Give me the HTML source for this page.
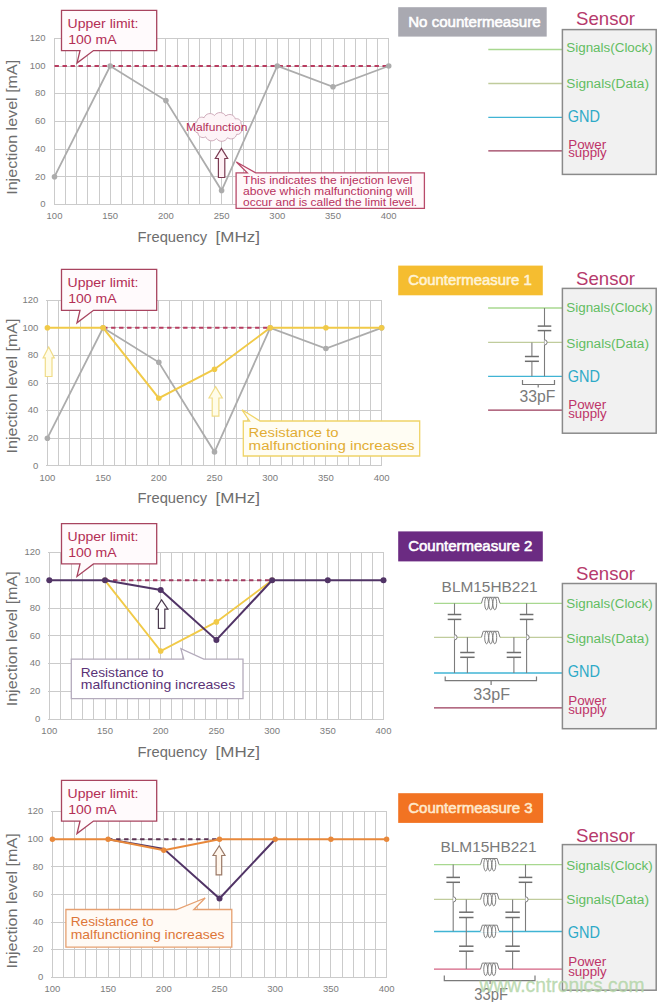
<!DOCTYPE html><html><head><meta charset="utf-8"><style>html,body{margin:0;padding:0;background:#fff;}svg{display:block;}</style></head><body>
<svg width="664" height="1002" viewBox="0 0 664 1002" font-family='"Liberation Sans", sans-serif'>
<rect width="664" height="1002" fill="#fff"/>
<line x1="54.5" y1="38.32" x2="54.5" y2="204.4" stroke="#cbcbcb" stroke-width="1" shape-rendering="crispEdges"/>
<line x1="65.64" y1="38.32" x2="65.64" y2="204.4" stroke="#cbcbcb" stroke-width="1" shape-rendering="crispEdges"/>
<line x1="76.78" y1="38.32" x2="76.78" y2="204.4" stroke="#cbcbcb" stroke-width="1" shape-rendering="crispEdges"/>
<line x1="87.92" y1="38.32" x2="87.92" y2="204.4" stroke="#cbcbcb" stroke-width="1" shape-rendering="crispEdges"/>
<line x1="99.06" y1="38.32" x2="99.06" y2="204.4" stroke="#cbcbcb" stroke-width="1" shape-rendering="crispEdges"/>
<line x1="110.2" y1="38.32" x2="110.2" y2="204.4" stroke="#cbcbcb" stroke-width="1" shape-rendering="crispEdges"/>
<line x1="121.34" y1="38.32" x2="121.34" y2="204.4" stroke="#cbcbcb" stroke-width="1" shape-rendering="crispEdges"/>
<line x1="132.48" y1="38.32" x2="132.48" y2="204.4" stroke="#cbcbcb" stroke-width="1" shape-rendering="crispEdges"/>
<line x1="143.62" y1="38.32" x2="143.62" y2="204.4" stroke="#cbcbcb" stroke-width="1" shape-rendering="crispEdges"/>
<line x1="154.76" y1="38.32" x2="154.76" y2="204.4" stroke="#cbcbcb" stroke-width="1" shape-rendering="crispEdges"/>
<line x1="165.9" y1="38.32" x2="165.9" y2="204.4" stroke="#cbcbcb" stroke-width="1" shape-rendering="crispEdges"/>
<line x1="177.04" y1="38.32" x2="177.04" y2="204.4" stroke="#cbcbcb" stroke-width="1" shape-rendering="crispEdges"/>
<line x1="188.18" y1="38.32" x2="188.18" y2="204.4" stroke="#cbcbcb" stroke-width="1" shape-rendering="crispEdges"/>
<line x1="199.32" y1="38.32" x2="199.32" y2="204.4" stroke="#cbcbcb" stroke-width="1" shape-rendering="crispEdges"/>
<line x1="210.46" y1="38.32" x2="210.46" y2="204.4" stroke="#cbcbcb" stroke-width="1" shape-rendering="crispEdges"/>
<line x1="221.6" y1="38.32" x2="221.6" y2="204.4" stroke="#cbcbcb" stroke-width="1" shape-rendering="crispEdges"/>
<line x1="232.74" y1="38.32" x2="232.74" y2="204.4" stroke="#cbcbcb" stroke-width="1" shape-rendering="crispEdges"/>
<line x1="243.88" y1="38.32" x2="243.88" y2="204.4" stroke="#cbcbcb" stroke-width="1" shape-rendering="crispEdges"/>
<line x1="255.02" y1="38.32" x2="255.02" y2="204.4" stroke="#cbcbcb" stroke-width="1" shape-rendering="crispEdges"/>
<line x1="266.16" y1="38.32" x2="266.16" y2="204.4" stroke="#cbcbcb" stroke-width="1" shape-rendering="crispEdges"/>
<line x1="277.3" y1="38.32" x2="277.3" y2="204.4" stroke="#cbcbcb" stroke-width="1" shape-rendering="crispEdges"/>
<line x1="288.44" y1="38.32" x2="288.44" y2="204.4" stroke="#cbcbcb" stroke-width="1" shape-rendering="crispEdges"/>
<line x1="299.58" y1="38.32" x2="299.58" y2="204.4" stroke="#cbcbcb" stroke-width="1" shape-rendering="crispEdges"/>
<line x1="310.72" y1="38.32" x2="310.72" y2="204.4" stroke="#cbcbcb" stroke-width="1" shape-rendering="crispEdges"/>
<line x1="321.86" y1="38.32" x2="321.86" y2="204.4" stroke="#cbcbcb" stroke-width="1" shape-rendering="crispEdges"/>
<line x1="333" y1="38.32" x2="333" y2="204.4" stroke="#cbcbcb" stroke-width="1" shape-rendering="crispEdges"/>
<line x1="344.14" y1="38.32" x2="344.14" y2="204.4" stroke="#cbcbcb" stroke-width="1" shape-rendering="crispEdges"/>
<line x1="355.28" y1="38.32" x2="355.28" y2="204.4" stroke="#cbcbcb" stroke-width="1" shape-rendering="crispEdges"/>
<line x1="366.42" y1="38.32" x2="366.42" y2="204.4" stroke="#cbcbcb" stroke-width="1" shape-rendering="crispEdges"/>
<line x1="377.56" y1="38.32" x2="377.56" y2="204.4" stroke="#cbcbcb" stroke-width="1" shape-rendering="crispEdges"/>
<line x1="388.7" y1="38.32" x2="388.7" y2="204.4" stroke="#cbcbcb" stroke-width="1" shape-rendering="crispEdges"/>
<line x1="53.5" y1="204.4" x2="388.7" y2="204.4" stroke="#cbcbcb" stroke-width="1" shape-rendering="crispEdges"/>
<line x1="53.5" y1="176.72" x2="388.7" y2="176.72" stroke="#cbcbcb" stroke-width="1" shape-rendering="crispEdges"/>
<line x1="53.5" y1="149.04" x2="388.7" y2="149.04" stroke="#cbcbcb" stroke-width="1" shape-rendering="crispEdges"/>
<line x1="53.5" y1="121.36" x2="388.7" y2="121.36" stroke="#cbcbcb" stroke-width="1" shape-rendering="crispEdges"/>
<line x1="53.5" y1="93.68" x2="388.7" y2="93.68" stroke="#cbcbcb" stroke-width="1" shape-rendering="crispEdges"/>
<line x1="53.5" y1="66" x2="388.7" y2="66" stroke="#cbcbcb" stroke-width="1" shape-rendering="crispEdges"/>
<line x1="53.5" y1="38.32" x2="388.7" y2="38.32" stroke="#cbcbcb" stroke-width="1" shape-rendering="crispEdges"/>
<text x="45.5" y="207.2" font-size="9.5" fill="#7c7c7c" text-anchor="end">0</text>
<text x="45.5" y="179.52" font-size="9.5" fill="#7c7c7c" text-anchor="end">20</text>
<text x="45.5" y="151.84" font-size="9.5" fill="#7c7c7c" text-anchor="end">40</text>
<text x="45.5" y="124.16" font-size="9.5" fill="#7c7c7c" text-anchor="end">60</text>
<text x="45.5" y="96.48" font-size="9.5" fill="#7c7c7c" text-anchor="end">80</text>
<text x="45.5" y="68.8" font-size="9.5" fill="#7c7c7c" text-anchor="end">100</text>
<text x="45.5" y="41.12" font-size="9.5" fill="#7c7c7c" text-anchor="end">120</text>
<text x="54.5" y="219.2" font-size="9.5" fill="#7c7c7c" text-anchor="middle">100</text>
<text x="110.2" y="219.2" font-size="9.5" fill="#7c7c7c" text-anchor="middle">150</text>
<text x="165.9" y="219.2" font-size="9.5" fill="#7c7c7c" text-anchor="middle">200</text>
<text x="221.6" y="219.2" font-size="9.5" fill="#7c7c7c" text-anchor="middle">250</text>
<text x="277.3" y="219.2" font-size="9.5" fill="#7c7c7c" text-anchor="middle">300</text>
<text x="333" y="219.2" font-size="9.5" fill="#7c7c7c" text-anchor="middle">350</text>
<text x="388.7" y="219.2" font-size="9.5" fill="#7c7c7c" text-anchor="middle">400</text>
<text transform="translate(16.6,127.3) rotate(-90)" font-size="15" fill="#6e6e6e" text-anchor="middle" textLength="135" lengthAdjust="spacingAndGlyphs">Injection level [mA]</text>
<text x="137.6" y="241.9" font-size="14.5" fill="#6e6e6e" textLength="69.5" lengthAdjust="spacingAndGlyphs">Frequency</text>
<text x="215.6" y="241.9" font-size="14.5" fill="#6e6e6e" textLength="44.3" lengthAdjust="spacingAndGlyphs">[MHz]</text>
<line x1="54.5" y1="66" x2="388.7" y2="66" stroke="#b83c60" stroke-width="2" stroke-dasharray="4.4 3.6"/>
<polyline points="54.5,176.72 110.2,66 165.9,100.6 221.6,190.56 277.3,66 333,86.76 388.7,66" fill="none" stroke="#acacac" stroke-width="1.8" stroke-linejoin="miter"/>
<circle cx="54.5" cy="176.72" r="2.8" fill="#acacac"/>
<circle cx="110.2" cy="66" r="2.8" fill="#acacac"/>
<circle cx="165.9" cy="100.6" r="2.8" fill="#acacac"/>
<circle cx="221.6" cy="190.56" r="2.8" fill="#acacac"/>
<circle cx="277.3" cy="66" r="2.8" fill="#acacac"/>
<circle cx="333" cy="86.76" r="2.8" fill="#acacac"/>
<circle cx="388.7" cy="66" r="2.8" fill="#acacac"/>
<path d="M61.5,10.3 L156.7,10.3 L156.7,50.6 L93.5,50.6 L77,63.1 L80,50.6 L61.5,50.6 Z" fill="#fffafc" stroke="#a8445f" stroke-width="1.3"/>
<text x="67.5" y="27.7" font-size="13.5" fill="#b32e55" textLength="71" lengthAdjust="spacingAndGlyphs">Upper limit:</text>
<text x="68.2" y="44.1" font-size="13.5" fill="#b32e55" textLength="48.5" lengthAdjust="spacingAndGlyphs">100 mA</text>
<rect x="398.2" y="7.2" width="148.5" height="29.4" fill="#a9a9b1"/>
<text x="408.2" y="26.5" font-size="14" fill="#ffffff" textLength="132.4" lengthAdjust="spacingAndGlyphs" stroke="#ffffff" stroke-width="0.55">No countermeasure</text>
<text x="576" y="24.7" font-size="18.5" fill="#b63a6c" textLength="59" lengthAdjust="spacingAndGlyphs">Sensor</text>
<line x1="488.3" y1="49.5" x2="562.4" y2="49.5" stroke="#a8d890" stroke-width="1.3"/>
<line x1="488.3" y1="83.5" x2="562.4" y2="83.5" stroke="#c0cc9c" stroke-width="1.3"/>
<line x1="488.3" y1="117.3" x2="562.4" y2="117.3" stroke="#40b4d4" stroke-width="1.3"/>
<line x1="488.3" y1="150.9" x2="562.4" y2="150.9" stroke="#9a3a5a" stroke-width="1.3"/>
<rect x="562.4" y="29.6" width="93.8" height="144.8" fill="#f1f1f1" stroke="#8a8a8a" stroke-width="1.5"/>
<text x="566.3" y="52.4" font-size="12.5" fill="#62bd62" textLength="86.4" lengthAdjust="spacingAndGlyphs">Signals(Clock)</text>
<text x="566.3" y="87.5" font-size="12.5" fill="#62bd62" textLength="82.7" lengthAdjust="spacingAndGlyphs">Signals(Data)</text>
<text x="567.8" y="122.4" font-size="16" fill="#2eaac8" textLength="32.2" lengthAdjust="spacingAndGlyphs">GND</text>
<text x="568.2" y="148.5" font-size="13" fill="#be3468" textLength="38" lengthAdjust="spacingAndGlyphs">Power</text>
<text x="568.2" y="157.2" font-size="13" fill="#be3468" textLength="38.5" lengthAdjust="spacingAndGlyphs">supply</text>
<line x1="47.4" y1="300.2" x2="47.4" y2="465.8" stroke="#cbcbcb" stroke-width="1" shape-rendering="crispEdges"/>
<line x1="58.54" y1="300.2" x2="58.54" y2="465.8" stroke="#cbcbcb" stroke-width="1" shape-rendering="crispEdges"/>
<line x1="69.68" y1="300.2" x2="69.68" y2="465.8" stroke="#cbcbcb" stroke-width="1" shape-rendering="crispEdges"/>
<line x1="80.82" y1="300.2" x2="80.82" y2="465.8" stroke="#cbcbcb" stroke-width="1" shape-rendering="crispEdges"/>
<line x1="91.96" y1="300.2" x2="91.96" y2="465.8" stroke="#cbcbcb" stroke-width="1" shape-rendering="crispEdges"/>
<line x1="103.1" y1="300.2" x2="103.1" y2="465.8" stroke="#cbcbcb" stroke-width="1" shape-rendering="crispEdges"/>
<line x1="114.24" y1="300.2" x2="114.24" y2="465.8" stroke="#cbcbcb" stroke-width="1" shape-rendering="crispEdges"/>
<line x1="125.38" y1="300.2" x2="125.38" y2="465.8" stroke="#cbcbcb" stroke-width="1" shape-rendering="crispEdges"/>
<line x1="136.52" y1="300.2" x2="136.52" y2="465.8" stroke="#cbcbcb" stroke-width="1" shape-rendering="crispEdges"/>
<line x1="147.66" y1="300.2" x2="147.66" y2="465.8" stroke="#cbcbcb" stroke-width="1" shape-rendering="crispEdges"/>
<line x1="158.8" y1="300.2" x2="158.8" y2="465.8" stroke="#cbcbcb" stroke-width="1" shape-rendering="crispEdges"/>
<line x1="169.94" y1="300.2" x2="169.94" y2="465.8" stroke="#cbcbcb" stroke-width="1" shape-rendering="crispEdges"/>
<line x1="181.08" y1="300.2" x2="181.08" y2="465.8" stroke="#cbcbcb" stroke-width="1" shape-rendering="crispEdges"/>
<line x1="192.22" y1="300.2" x2="192.22" y2="465.8" stroke="#cbcbcb" stroke-width="1" shape-rendering="crispEdges"/>
<line x1="203.36" y1="300.2" x2="203.36" y2="465.8" stroke="#cbcbcb" stroke-width="1" shape-rendering="crispEdges"/>
<line x1="214.5" y1="300.2" x2="214.5" y2="465.8" stroke="#cbcbcb" stroke-width="1" shape-rendering="crispEdges"/>
<line x1="225.64" y1="300.2" x2="225.64" y2="465.8" stroke="#cbcbcb" stroke-width="1" shape-rendering="crispEdges"/>
<line x1="236.78" y1="300.2" x2="236.78" y2="465.8" stroke="#cbcbcb" stroke-width="1" shape-rendering="crispEdges"/>
<line x1="247.92" y1="300.2" x2="247.92" y2="465.8" stroke="#cbcbcb" stroke-width="1" shape-rendering="crispEdges"/>
<line x1="259.06" y1="300.2" x2="259.06" y2="465.8" stroke="#cbcbcb" stroke-width="1" shape-rendering="crispEdges"/>
<line x1="270.2" y1="300.2" x2="270.2" y2="465.8" stroke="#cbcbcb" stroke-width="1" shape-rendering="crispEdges"/>
<line x1="281.34" y1="300.2" x2="281.34" y2="465.8" stroke="#cbcbcb" stroke-width="1" shape-rendering="crispEdges"/>
<line x1="292.48" y1="300.2" x2="292.48" y2="465.8" stroke="#cbcbcb" stroke-width="1" shape-rendering="crispEdges"/>
<line x1="303.62" y1="300.2" x2="303.62" y2="465.8" stroke="#cbcbcb" stroke-width="1" shape-rendering="crispEdges"/>
<line x1="314.76" y1="300.2" x2="314.76" y2="465.8" stroke="#cbcbcb" stroke-width="1" shape-rendering="crispEdges"/>
<line x1="325.9" y1="300.2" x2="325.9" y2="465.8" stroke="#cbcbcb" stroke-width="1" shape-rendering="crispEdges"/>
<line x1="337.04" y1="300.2" x2="337.04" y2="465.8" stroke="#cbcbcb" stroke-width="1" shape-rendering="crispEdges"/>
<line x1="348.18" y1="300.2" x2="348.18" y2="465.8" stroke="#cbcbcb" stroke-width="1" shape-rendering="crispEdges"/>
<line x1="359.32" y1="300.2" x2="359.32" y2="465.8" stroke="#cbcbcb" stroke-width="1" shape-rendering="crispEdges"/>
<line x1="370.46" y1="300.2" x2="370.46" y2="465.8" stroke="#cbcbcb" stroke-width="1" shape-rendering="crispEdges"/>
<line x1="381.6" y1="300.2" x2="381.6" y2="465.8" stroke="#cbcbcb" stroke-width="1" shape-rendering="crispEdges"/>
<line x1="46.4" y1="465.8" x2="381.6" y2="465.8" stroke="#cbcbcb" stroke-width="1" shape-rendering="crispEdges"/>
<line x1="46.4" y1="438.2" x2="381.6" y2="438.2" stroke="#cbcbcb" stroke-width="1" shape-rendering="crispEdges"/>
<line x1="46.4" y1="410.6" x2="381.6" y2="410.6" stroke="#cbcbcb" stroke-width="1" shape-rendering="crispEdges"/>
<line x1="46.4" y1="383" x2="381.6" y2="383" stroke="#cbcbcb" stroke-width="1" shape-rendering="crispEdges"/>
<line x1="46.4" y1="355.4" x2="381.6" y2="355.4" stroke="#cbcbcb" stroke-width="1" shape-rendering="crispEdges"/>
<line x1="46.4" y1="327.8" x2="381.6" y2="327.8" stroke="#cbcbcb" stroke-width="1" shape-rendering="crispEdges"/>
<line x1="46.4" y1="300.2" x2="381.6" y2="300.2" stroke="#cbcbcb" stroke-width="1" shape-rendering="crispEdges"/>
<text x="38.4" y="468.6" font-size="9.5" fill="#7c7c7c" text-anchor="end">0</text>
<text x="38.4" y="441" font-size="9.5" fill="#7c7c7c" text-anchor="end">20</text>
<text x="38.4" y="413.4" font-size="9.5" fill="#7c7c7c" text-anchor="end">40</text>
<text x="38.4" y="385.8" font-size="9.5" fill="#7c7c7c" text-anchor="end">60</text>
<text x="38.4" y="358.2" font-size="9.5" fill="#7c7c7c" text-anchor="end">80</text>
<text x="38.4" y="330.6" font-size="9.5" fill="#7c7c7c" text-anchor="end">100</text>
<text x="38.4" y="303" font-size="9.5" fill="#7c7c7c" text-anchor="end">120</text>
<text x="47.4" y="480.6" font-size="9.5" fill="#7c7c7c" text-anchor="middle">100</text>
<text x="103.1" y="480.6" font-size="9.5" fill="#7c7c7c" text-anchor="middle">150</text>
<text x="158.8" y="480.6" font-size="9.5" fill="#7c7c7c" text-anchor="middle">200</text>
<text x="214.5" y="480.6" font-size="9.5" fill="#7c7c7c" text-anchor="middle">250</text>
<text x="270.2" y="480.6" font-size="9.5" fill="#7c7c7c" text-anchor="middle">300</text>
<text x="325.9" y="480.6" font-size="9.5" fill="#7c7c7c" text-anchor="middle">350</text>
<text x="381.6" y="480.6" font-size="9.5" fill="#7c7c7c" text-anchor="middle">400</text>
<text transform="translate(16.6,386) rotate(-90)" font-size="15" fill="#6e6e6e" text-anchor="middle" textLength="135" lengthAdjust="spacingAndGlyphs">Injection level [mA]</text>
<text x="137.6" y="503.3" font-size="14.5" fill="#6e6e6e" textLength="69.5" lengthAdjust="spacingAndGlyphs">Frequency</text>
<text x="215.6" y="503.3" font-size="14.5" fill="#6e6e6e" textLength="44.3" lengthAdjust="spacingAndGlyphs">[MHz]</text>
<line x1="103.1" y1="327.8" x2="270.2" y2="327.8" stroke="#b83c60" stroke-width="2" stroke-dasharray="4.4 3.6"/>
<polyline points="47.4,438.2 103.1,327.8 158.8,362.3 214.5,452 270.2,327.8 325.9,348.5 381.6,327.8" fill="none" stroke="#acacac" stroke-width="1.8" stroke-linejoin="miter"/>
<circle cx="47.4" cy="438.2" r="2.8" fill="#acacac"/>
<circle cx="103.1" cy="327.8" r="2.8" fill="#acacac"/>
<circle cx="158.8" cy="362.3" r="2.8" fill="#acacac"/>
<circle cx="214.5" cy="452" r="2.8" fill="#acacac"/>
<circle cx="270.2" cy="327.8" r="2.8" fill="#acacac"/>
<circle cx="325.9" cy="348.5" r="2.8" fill="#acacac"/>
<circle cx="381.6" cy="327.8" r="2.8" fill="#acacac"/>
<polyline points="47.4,327.8 103.1,327.8 158.8,398.18 214.5,369.2 270.2,327.8 325.9,327.8 381.6,327.8" fill="none" stroke="#f1ca48" stroke-width="1.9" stroke-linejoin="miter"/>
<circle cx="47.4" cy="327.8" r="2.8" fill="#f1ca48"/>
<circle cx="103.1" cy="327.8" r="2.8" fill="#f1ca48"/>
<circle cx="158.8" cy="398.18" r="2.8" fill="#f1ca48"/>
<circle cx="214.5" cy="369.2" r="2.8" fill="#f1ca48"/>
<circle cx="270.2" cy="327.8" r="2.8" fill="#f1ca48"/>
<circle cx="325.9" cy="327.8" r="2.8" fill="#f1ca48"/>
<circle cx="381.6" cy="327.8" r="2.8" fill="#f1ca48"/>
<path d="M61.5,269.4 L156.7,269.4 L156.7,310.3 L93.5,310.3 L77,322.8 L80,310.3 L61.5,310.3 Z" fill="#fffafc" stroke="#a8445f" stroke-width="1.3"/>
<text x="67.5" y="286.8" font-size="13.5" fill="#b32e55" textLength="71" lengthAdjust="spacingAndGlyphs">Upper limit:</text>
<text x="68.2" y="303.2" font-size="13.5" fill="#b32e55" textLength="48.5" lengthAdjust="spacingAndGlyphs">100 mA</text>
<rect x="398.2" y="265.6" width="144.6" height="29.7" fill="#f5bd30"/>
<text x="408.2" y="284.9" font-size="14" fill="#fff3d6" textLength="123.6" lengthAdjust="spacingAndGlyphs" stroke="#fff3d6" stroke-width="0.55">Countermeasure 1</text>
<text x="576" y="284.7" font-size="18.5" fill="#b63a6c" textLength="59" lengthAdjust="spacingAndGlyphs">Sensor</text>
<line x1="488.1" y1="308" x2="562.4" y2="308" stroke="#a8d890" stroke-width="1.3"/>
<line x1="488.1" y1="342.4" x2="562.4" y2="342.4" stroke="#c0cc9c" stroke-width="1.3"/>
<line x1="488.1" y1="376.3" x2="562.4" y2="376.3" stroke="#40b4d4" stroke-width="1.3"/>
<line x1="488.1" y1="410.2" x2="562.4" y2="410.2" stroke="#9a3a5a" stroke-width="1.3"/>
<rect x="562.4" y="288.4" width="93.8" height="144.8" fill="#f1f1f1" stroke="#8a8a8a" stroke-width="1.5"/>
<text x="566.3" y="312.2" font-size="12.5" fill="#62bd62" textLength="86.4" lengthAdjust="spacingAndGlyphs">Signals(Clock)</text>
<text x="566.3" y="347.5" font-size="12.5" fill="#62bd62" textLength="82.7" lengthAdjust="spacingAndGlyphs">Signals(Data)</text>
<text x="567.8" y="381.9" font-size="16" fill="#2eaac8" textLength="32.2" lengthAdjust="spacingAndGlyphs">GND</text>
<text x="568.2" y="408.5" font-size="13" fill="#be3468" textLength="38" lengthAdjust="spacingAndGlyphs">Power</text>
<text x="568.2" y="418" font-size="13" fill="#be3468" textLength="38.5" lengthAdjust="spacingAndGlyphs">supply</text>
<line x1="49.3" y1="552.56" x2="49.3" y2="719" stroke="#cbcbcb" stroke-width="1" shape-rendering="crispEdges"/>
<line x1="60.44" y1="552.56" x2="60.44" y2="719" stroke="#cbcbcb" stroke-width="1" shape-rendering="crispEdges"/>
<line x1="71.58" y1="552.56" x2="71.58" y2="719" stroke="#cbcbcb" stroke-width="1" shape-rendering="crispEdges"/>
<line x1="82.72" y1="552.56" x2="82.72" y2="719" stroke="#cbcbcb" stroke-width="1" shape-rendering="crispEdges"/>
<line x1="93.86" y1="552.56" x2="93.86" y2="719" stroke="#cbcbcb" stroke-width="1" shape-rendering="crispEdges"/>
<line x1="105" y1="552.56" x2="105" y2="719" stroke="#cbcbcb" stroke-width="1" shape-rendering="crispEdges"/>
<line x1="116.14" y1="552.56" x2="116.14" y2="719" stroke="#cbcbcb" stroke-width="1" shape-rendering="crispEdges"/>
<line x1="127.28" y1="552.56" x2="127.28" y2="719" stroke="#cbcbcb" stroke-width="1" shape-rendering="crispEdges"/>
<line x1="138.42" y1="552.56" x2="138.42" y2="719" stroke="#cbcbcb" stroke-width="1" shape-rendering="crispEdges"/>
<line x1="149.56" y1="552.56" x2="149.56" y2="719" stroke="#cbcbcb" stroke-width="1" shape-rendering="crispEdges"/>
<line x1="160.7" y1="552.56" x2="160.7" y2="719" stroke="#cbcbcb" stroke-width="1" shape-rendering="crispEdges"/>
<line x1="171.84" y1="552.56" x2="171.84" y2="719" stroke="#cbcbcb" stroke-width="1" shape-rendering="crispEdges"/>
<line x1="182.98" y1="552.56" x2="182.98" y2="719" stroke="#cbcbcb" stroke-width="1" shape-rendering="crispEdges"/>
<line x1="194.12" y1="552.56" x2="194.12" y2="719" stroke="#cbcbcb" stroke-width="1" shape-rendering="crispEdges"/>
<line x1="205.26" y1="552.56" x2="205.26" y2="719" stroke="#cbcbcb" stroke-width="1" shape-rendering="crispEdges"/>
<line x1="216.4" y1="552.56" x2="216.4" y2="719" stroke="#cbcbcb" stroke-width="1" shape-rendering="crispEdges"/>
<line x1="227.54" y1="552.56" x2="227.54" y2="719" stroke="#cbcbcb" stroke-width="1" shape-rendering="crispEdges"/>
<line x1="238.68" y1="552.56" x2="238.68" y2="719" stroke="#cbcbcb" stroke-width="1" shape-rendering="crispEdges"/>
<line x1="249.82" y1="552.56" x2="249.82" y2="719" stroke="#cbcbcb" stroke-width="1" shape-rendering="crispEdges"/>
<line x1="260.96" y1="552.56" x2="260.96" y2="719" stroke="#cbcbcb" stroke-width="1" shape-rendering="crispEdges"/>
<line x1="272.1" y1="552.56" x2="272.1" y2="719" stroke="#cbcbcb" stroke-width="1" shape-rendering="crispEdges"/>
<line x1="283.24" y1="552.56" x2="283.24" y2="719" stroke="#cbcbcb" stroke-width="1" shape-rendering="crispEdges"/>
<line x1="294.38" y1="552.56" x2="294.38" y2="719" stroke="#cbcbcb" stroke-width="1" shape-rendering="crispEdges"/>
<line x1="305.52" y1="552.56" x2="305.52" y2="719" stroke="#cbcbcb" stroke-width="1" shape-rendering="crispEdges"/>
<line x1="316.66" y1="552.56" x2="316.66" y2="719" stroke="#cbcbcb" stroke-width="1" shape-rendering="crispEdges"/>
<line x1="327.8" y1="552.56" x2="327.8" y2="719" stroke="#cbcbcb" stroke-width="1" shape-rendering="crispEdges"/>
<line x1="338.94" y1="552.56" x2="338.94" y2="719" stroke="#cbcbcb" stroke-width="1" shape-rendering="crispEdges"/>
<line x1="350.08" y1="552.56" x2="350.08" y2="719" stroke="#cbcbcb" stroke-width="1" shape-rendering="crispEdges"/>
<line x1="361.22" y1="552.56" x2="361.22" y2="719" stroke="#cbcbcb" stroke-width="1" shape-rendering="crispEdges"/>
<line x1="372.36" y1="552.56" x2="372.36" y2="719" stroke="#cbcbcb" stroke-width="1" shape-rendering="crispEdges"/>
<line x1="383.5" y1="552.56" x2="383.5" y2="719" stroke="#cbcbcb" stroke-width="1" shape-rendering="crispEdges"/>
<line x1="48.3" y1="719" x2="383.5" y2="719" stroke="#cbcbcb" stroke-width="1" shape-rendering="crispEdges"/>
<line x1="48.3" y1="691.26" x2="383.5" y2="691.26" stroke="#cbcbcb" stroke-width="1" shape-rendering="crispEdges"/>
<line x1="48.3" y1="663.52" x2="383.5" y2="663.52" stroke="#cbcbcb" stroke-width="1" shape-rendering="crispEdges"/>
<line x1="48.3" y1="635.78" x2="383.5" y2="635.78" stroke="#cbcbcb" stroke-width="1" shape-rendering="crispEdges"/>
<line x1="48.3" y1="608.04" x2="383.5" y2="608.04" stroke="#cbcbcb" stroke-width="1" shape-rendering="crispEdges"/>
<line x1="48.3" y1="580.3" x2="383.5" y2="580.3" stroke="#cbcbcb" stroke-width="1" shape-rendering="crispEdges"/>
<line x1="48.3" y1="552.56" x2="383.5" y2="552.56" stroke="#cbcbcb" stroke-width="1" shape-rendering="crispEdges"/>
<text x="40.3" y="721.8" font-size="9.5" fill="#7c7c7c" text-anchor="end">0</text>
<text x="40.3" y="694.06" font-size="9.5" fill="#7c7c7c" text-anchor="end">20</text>
<text x="40.3" y="666.32" font-size="9.5" fill="#7c7c7c" text-anchor="end">40</text>
<text x="40.3" y="638.58" font-size="9.5" fill="#7c7c7c" text-anchor="end">60</text>
<text x="40.3" y="610.84" font-size="9.5" fill="#7c7c7c" text-anchor="end">80</text>
<text x="40.3" y="583.1" font-size="9.5" fill="#7c7c7c" text-anchor="end">100</text>
<text x="40.3" y="555.36" font-size="9.5" fill="#7c7c7c" text-anchor="end">120</text>
<text x="49.3" y="733.8" font-size="9.5" fill="#7c7c7c" text-anchor="middle">100</text>
<text x="105" y="733.8" font-size="9.5" fill="#7c7c7c" text-anchor="middle">150</text>
<text x="160.7" y="733.8" font-size="9.5" fill="#7c7c7c" text-anchor="middle">200</text>
<text x="216.4" y="733.8" font-size="9.5" fill="#7c7c7c" text-anchor="middle">250</text>
<text x="272.1" y="733.8" font-size="9.5" fill="#7c7c7c" text-anchor="middle">300</text>
<text x="327.8" y="733.8" font-size="9.5" fill="#7c7c7c" text-anchor="middle">350</text>
<text x="383.5" y="733.8" font-size="9.5" fill="#7c7c7c" text-anchor="middle">400</text>
<text transform="translate(16.6,638.8) rotate(-90)" font-size="15" fill="#6e6e6e" text-anchor="middle" textLength="135" lengthAdjust="spacingAndGlyphs">Injection level [mA]</text>
<text x="137.6" y="756.5" font-size="14.5" fill="#6e6e6e" textLength="69.5" lengthAdjust="spacingAndGlyphs">Frequency</text>
<text x="215.6" y="756.5" font-size="14.5" fill="#6e6e6e" textLength="44.3" lengthAdjust="spacingAndGlyphs">[MHz]</text>
<line x1="105" y1="580.3" x2="272.1" y2="580.3" stroke="#a23a60" stroke-width="2" stroke-dasharray="4.4 3.6"/>
<polyline points="105,580.3 160.7,651.04 216.4,621.91 272.1,580.3" fill="none" stroke="#f1ca48" stroke-width="1.9" stroke-linejoin="miter"/>
<circle cx="105" cy="580.3" r="2.8" fill="#f1ca48"/>
<circle cx="160.7" cy="651.04" r="2.8" fill="#f1ca48"/>
<circle cx="216.4" cy="621.91" r="2.8" fill="#f1ca48"/>
<circle cx="272.1" cy="580.3" r="2.8" fill="#f1ca48"/>
<polyline points="49.3,580.3 105,580.3 160.7,590.01 216.4,639.94 272.1,580.3 327.8,580.3 383.5,580.3" fill="none" stroke="#513466" stroke-width="2" stroke-linejoin="miter"/>
<circle cx="49.3" cy="580.3" r="3" fill="#513466"/>
<circle cx="105" cy="580.3" r="3" fill="#513466"/>
<circle cx="160.7" cy="590.01" r="3" fill="#513466"/>
<circle cx="216.4" cy="639.94" r="3" fill="#513466"/>
<circle cx="272.1" cy="580.3" r="3" fill="#513466"/>
<circle cx="327.8" cy="580.3" r="3" fill="#513466"/>
<circle cx="383.5" cy="580.3" r="3" fill="#513466"/>
<path d="M61.5,523.6 L156.7,523.6 L156.7,563.9 L93.5,563.9 L77,576.4 L80,563.9 L61.5,563.9 Z" fill="#fffafc" stroke="#a8445f" stroke-width="1.3"/>
<text x="67.5" y="541" font-size="13.5" fill="#b32e55" textLength="71" lengthAdjust="spacingAndGlyphs">Upper limit:</text>
<text x="68.2" y="557.4" font-size="13.5" fill="#b32e55" textLength="48.5" lengthAdjust="spacingAndGlyphs">100 mA</text>
<rect x="398.2" y="531.4" width="144.6" height="30" fill="#6b2b82"/>
<text x="408.2" y="550.7" font-size="14" fill="#ffffff" textLength="124.2" lengthAdjust="spacingAndGlyphs" stroke="#ffffff" stroke-width="0.55">Countermeasure 2</text>
<text x="576" y="579.6" font-size="18.5" fill="#b63a6c" textLength="59" lengthAdjust="spacingAndGlyphs">Sensor</text>
<line x1="434" y1="603.3" x2="562.4" y2="603.3" stroke="#a8d890" stroke-width="1.3"/>
<line x1="434" y1="637.3" x2="562.4" y2="637.3" stroke="#c0cc9c" stroke-width="1.3"/>
<line x1="434" y1="673" x2="562.4" y2="673" stroke="#40b4d4" stroke-width="1.3"/>
<line x1="434" y1="707.9" x2="562.4" y2="707.9" stroke="#9a3a5a" stroke-width="1.3"/>
<rect x="562.4" y="583.5" width="93.8" height="145.2" fill="#f1f1f1" stroke="#8a8a8a" stroke-width="1.5"/>
<text x="566.3" y="607.6" font-size="12.5" fill="#62bd62" textLength="86.4" lengthAdjust="spacingAndGlyphs">Signals(Clock)</text>
<text x="566.3" y="642.5" font-size="12.5" fill="#62bd62" textLength="82.7" lengthAdjust="spacingAndGlyphs">Signals(Data)</text>
<text x="567.8" y="677.4" font-size="16" fill="#2eaac8" textLength="32.2" lengthAdjust="spacingAndGlyphs">GND</text>
<text x="568.2" y="705.1" font-size="13" fill="#be3468" textLength="38" lengthAdjust="spacingAndGlyphs">Power</text>
<text x="568.2" y="713.7" font-size="13" fill="#be3468" textLength="38.5" lengthAdjust="spacingAndGlyphs">supply</text>
<line x1="52.4" y1="811.6" x2="52.4" y2="977.2" stroke="#cbcbcb" stroke-width="1" shape-rendering="crispEdges"/>
<line x1="63.54" y1="811.6" x2="63.54" y2="977.2" stroke="#cbcbcb" stroke-width="1" shape-rendering="crispEdges"/>
<line x1="74.68" y1="811.6" x2="74.68" y2="977.2" stroke="#cbcbcb" stroke-width="1" shape-rendering="crispEdges"/>
<line x1="85.82" y1="811.6" x2="85.82" y2="977.2" stroke="#cbcbcb" stroke-width="1" shape-rendering="crispEdges"/>
<line x1="96.96" y1="811.6" x2="96.96" y2="977.2" stroke="#cbcbcb" stroke-width="1" shape-rendering="crispEdges"/>
<line x1="108.1" y1="811.6" x2="108.1" y2="977.2" stroke="#cbcbcb" stroke-width="1" shape-rendering="crispEdges"/>
<line x1="119.24" y1="811.6" x2="119.24" y2="977.2" stroke="#cbcbcb" stroke-width="1" shape-rendering="crispEdges"/>
<line x1="130.38" y1="811.6" x2="130.38" y2="977.2" stroke="#cbcbcb" stroke-width="1" shape-rendering="crispEdges"/>
<line x1="141.52" y1="811.6" x2="141.52" y2="977.2" stroke="#cbcbcb" stroke-width="1" shape-rendering="crispEdges"/>
<line x1="152.66" y1="811.6" x2="152.66" y2="977.2" stroke="#cbcbcb" stroke-width="1" shape-rendering="crispEdges"/>
<line x1="163.8" y1="811.6" x2="163.8" y2="977.2" stroke="#cbcbcb" stroke-width="1" shape-rendering="crispEdges"/>
<line x1="174.94" y1="811.6" x2="174.94" y2="977.2" stroke="#cbcbcb" stroke-width="1" shape-rendering="crispEdges"/>
<line x1="186.08" y1="811.6" x2="186.08" y2="977.2" stroke="#cbcbcb" stroke-width="1" shape-rendering="crispEdges"/>
<line x1="197.22" y1="811.6" x2="197.22" y2="977.2" stroke="#cbcbcb" stroke-width="1" shape-rendering="crispEdges"/>
<line x1="208.36" y1="811.6" x2="208.36" y2="977.2" stroke="#cbcbcb" stroke-width="1" shape-rendering="crispEdges"/>
<line x1="219.5" y1="811.6" x2="219.5" y2="977.2" stroke="#cbcbcb" stroke-width="1" shape-rendering="crispEdges"/>
<line x1="230.64" y1="811.6" x2="230.64" y2="977.2" stroke="#cbcbcb" stroke-width="1" shape-rendering="crispEdges"/>
<line x1="241.78" y1="811.6" x2="241.78" y2="977.2" stroke="#cbcbcb" stroke-width="1" shape-rendering="crispEdges"/>
<line x1="252.92" y1="811.6" x2="252.92" y2="977.2" stroke="#cbcbcb" stroke-width="1" shape-rendering="crispEdges"/>
<line x1="264.06" y1="811.6" x2="264.06" y2="977.2" stroke="#cbcbcb" stroke-width="1" shape-rendering="crispEdges"/>
<line x1="275.2" y1="811.6" x2="275.2" y2="977.2" stroke="#cbcbcb" stroke-width="1" shape-rendering="crispEdges"/>
<line x1="286.34" y1="811.6" x2="286.34" y2="977.2" stroke="#cbcbcb" stroke-width="1" shape-rendering="crispEdges"/>
<line x1="297.48" y1="811.6" x2="297.48" y2="977.2" stroke="#cbcbcb" stroke-width="1" shape-rendering="crispEdges"/>
<line x1="308.62" y1="811.6" x2="308.62" y2="977.2" stroke="#cbcbcb" stroke-width="1" shape-rendering="crispEdges"/>
<line x1="319.76" y1="811.6" x2="319.76" y2="977.2" stroke="#cbcbcb" stroke-width="1" shape-rendering="crispEdges"/>
<line x1="330.9" y1="811.6" x2="330.9" y2="977.2" stroke="#cbcbcb" stroke-width="1" shape-rendering="crispEdges"/>
<line x1="342.04" y1="811.6" x2="342.04" y2="977.2" stroke="#cbcbcb" stroke-width="1" shape-rendering="crispEdges"/>
<line x1="353.18" y1="811.6" x2="353.18" y2="977.2" stroke="#cbcbcb" stroke-width="1" shape-rendering="crispEdges"/>
<line x1="364.32" y1="811.6" x2="364.32" y2="977.2" stroke="#cbcbcb" stroke-width="1" shape-rendering="crispEdges"/>
<line x1="375.46" y1="811.6" x2="375.46" y2="977.2" stroke="#cbcbcb" stroke-width="1" shape-rendering="crispEdges"/>
<line x1="386.6" y1="811.6" x2="386.6" y2="977.2" stroke="#cbcbcb" stroke-width="1" shape-rendering="crispEdges"/>
<line x1="51.4" y1="977.2" x2="386.6" y2="977.2" stroke="#cbcbcb" stroke-width="1" shape-rendering="crispEdges"/>
<line x1="51.4" y1="949.6" x2="386.6" y2="949.6" stroke="#cbcbcb" stroke-width="1" shape-rendering="crispEdges"/>
<line x1="51.4" y1="922" x2="386.6" y2="922" stroke="#cbcbcb" stroke-width="1" shape-rendering="crispEdges"/>
<line x1="51.4" y1="894.4" x2="386.6" y2="894.4" stroke="#cbcbcb" stroke-width="1" shape-rendering="crispEdges"/>
<line x1="51.4" y1="866.8" x2="386.6" y2="866.8" stroke="#cbcbcb" stroke-width="1" shape-rendering="crispEdges"/>
<line x1="51.4" y1="839.2" x2="386.6" y2="839.2" stroke="#cbcbcb" stroke-width="1" shape-rendering="crispEdges"/>
<line x1="51.4" y1="811.6" x2="386.6" y2="811.6" stroke="#cbcbcb" stroke-width="1" shape-rendering="crispEdges"/>
<text x="43.4" y="980" font-size="9.5" fill="#7c7c7c" text-anchor="end">0</text>
<text x="43.4" y="952.4" font-size="9.5" fill="#7c7c7c" text-anchor="end">20</text>
<text x="43.4" y="924.8" font-size="9.5" fill="#7c7c7c" text-anchor="end">40</text>
<text x="43.4" y="897.2" font-size="9.5" fill="#7c7c7c" text-anchor="end">60</text>
<text x="43.4" y="869.6" font-size="9.5" fill="#7c7c7c" text-anchor="end">80</text>
<text x="43.4" y="842" font-size="9.5" fill="#7c7c7c" text-anchor="end">100</text>
<text x="43.4" y="814.4" font-size="9.5" fill="#7c7c7c" text-anchor="end">120</text>
<text x="52.4" y="992" font-size="9.5" fill="#7c7c7c" text-anchor="middle">100</text>
<text x="108.1" y="992" font-size="9.5" fill="#7c7c7c" text-anchor="middle">150</text>
<text x="163.8" y="992" font-size="9.5" fill="#7c7c7c" text-anchor="middle">200</text>
<text x="219.5" y="992" font-size="9.5" fill="#7c7c7c" text-anchor="middle">250</text>
<text x="275.2" y="992" font-size="9.5" fill="#7c7c7c" text-anchor="middle">300</text>
<text x="330.9" y="992" font-size="9.5" fill="#7c7c7c" text-anchor="middle">350</text>
<text x="386.6" y="992" font-size="9.5" fill="#7c7c7c" text-anchor="middle">400</text>
<text transform="translate(16.6,900.9) rotate(-90)" font-size="15" fill="#6e6e6e" text-anchor="middle" textLength="135" lengthAdjust="spacingAndGlyphs">Injection level [mA]</text>
<line x1="108.1" y1="839.2" x2="219.5" y2="839.2" stroke="#5a3252" stroke-width="2" stroke-dasharray="4.4 3.6"/>
<polyline points="108.1,839.2 163.8,848.86 219.5,898.54 275.2,839.2" fill="none" stroke="#513466" stroke-width="2" stroke-linejoin="miter"/>
<circle cx="219.5" cy="898.54" r="3" fill="#513466"/>
<polyline points="52.4,839.2 108.1,839.2 163.8,850.24 219.5,839.2 275.2,839.2 330.9,839.2 386.6,839.2" fill="none" stroke="#e8883a" stroke-width="2" stroke-linejoin="miter"/>
<circle cx="52.4" cy="839.2" r="2.7" fill="#e8883a"/>
<circle cx="108.1" cy="839.2" r="2.7" fill="#e8883a"/>
<circle cx="163.8" cy="850.24" r="2.7" fill="#e8883a"/>
<circle cx="219.5" cy="839.2" r="2.7" fill="#e8883a"/>
<circle cx="275.2" cy="839.2" r="2.7" fill="#e8883a"/>
<circle cx="330.9" cy="839.2" r="2.7" fill="#e8883a"/>
<circle cx="386.6" cy="839.2" r="2.7" fill="#e8883a"/>
<path d="M61.5,780.4 L156.7,780.4 L156.7,821.1 L93.5,821.1 L77,833.6 L80,821.1 L61.5,821.1 Z" fill="#fffafc" stroke="#a8445f" stroke-width="1.3"/>
<text x="67.5" y="797.8" font-size="13.5" fill="#b32e55" textLength="71" lengthAdjust="spacingAndGlyphs">Upper limit:</text>
<text x="68.2" y="814.2" font-size="13.5" fill="#b32e55" textLength="48.5" lengthAdjust="spacingAndGlyphs">100 mA</text>
<rect x="398.2" y="793.2" width="144.9" height="29.7" fill="#f27322"/>
<text x="408.2" y="812.5" font-size="14" fill="#ffe9cc" textLength="124.5" lengthAdjust="spacingAndGlyphs" stroke="#ffe9cc" stroke-width="0.55">Countermeasure 3</text>
<text x="576" y="841.5" font-size="18.5" fill="#b63a6c" textLength="59" lengthAdjust="spacingAndGlyphs">Sensor</text>
<line x1="434" y1="864.6" x2="562.4" y2="864.6" stroke="#a8d890" stroke-width="1.3"/>
<line x1="434" y1="899.3" x2="562.4" y2="899.3" stroke="#c0cc9c" stroke-width="1.3"/>
<line x1="434" y1="931.5" x2="562.4" y2="931.5" stroke="#40b4d4" stroke-width="1.3"/>
<line x1="434" y1="969.2" x2="562.4" y2="969.2" stroke="#d46282" stroke-width="1.3"/>
<rect x="562.4" y="844.6" width="93.8" height="145.6" fill="#f1f1f1" stroke="#8a8a8a" stroke-width="1.5"/>
<text x="566.3" y="869.9" font-size="12.5" fill="#62bd62" textLength="86.4" lengthAdjust="spacingAndGlyphs">Signals(Clock)</text>
<text x="566.3" y="904.3" font-size="12.5" fill="#62bd62" textLength="82.7" lengthAdjust="spacingAndGlyphs">Signals(Data)</text>
<text x="567.8" y="938" font-size="16" fill="#2eaac8" textLength="32.2" lengthAdjust="spacingAndGlyphs">GND</text>
<text x="568.2" y="965.9" font-size="13" fill="#be3468" textLength="38" lengthAdjust="spacingAndGlyphs">Power</text>
<text x="568.2" y="975.6" font-size="13" fill="#be3468" textLength="38.5" lengthAdjust="spacingAndGlyphs">supply</text>
<path d="M241.43,129.3 A4.04,4.04 0 0 1 236.6,134.32 A5.58,5.58 0 0 1 227.58,137.67 A6.49,6.49 0 0 1 216.43,138.56 A6.3,6.3 0 0 1 205.71,136.81 A5.1,5.1 0 0 1 197.88,132.81 A3.59,3.59 0 0 1 194.72,127.48 A3.41,3.41 0 0 1 196.96,122.04 A4.83,4.83 0 0 1 204.1,117.74 A6.16,6.16 0 0 1 214.48,115.55 A6.54,6.54 0 0 1 225.74,115.99 A5.8,5.8 0 0 1 235.3,118.95 A4.31,4.31 0 0 1 240.96,123.76 A3.23,3.23 0 0 1 241.43,129.3 Z" fill="#fdf4f7" stroke="#c9a3b3" stroke-width="0.9"/>
<text x="186" y="130.9" font-size="11" fill="#b4305a" textLength="61.5" lengthAdjust="spacingAndGlyphs">Malfunction</text>
<path d="M221.4,148.4 L227.7,158.5 L224.8,158.5 L224.8,177.5 L218.4,177.5 L218.4,158.5 L215.3,158.5 Z" fill="#fdf0f4" stroke="#7a3a52" stroke-width="1.2" stroke-linejoin="miter"/>
<path d="M236.1,172.9 L247.3,172.9 L236.4,162 L255.7,172.9 L424.4,172.9 L424.4,208.3 L236.1,208.3 Z" fill="#fff8fa" fill-opacity="1" stroke="#b84a6a" stroke-width="1.3"/>
<text x="243.1" y="184.3" font-size="11" fill="#b8325e" textLength="169" lengthAdjust="spacingAndGlyphs">This indicates the injection level</text>
<text x="243.1" y="195.2" font-size="11" fill="#b8325e" textLength="169.7" lengthAdjust="spacingAndGlyphs">above which malfunctioning will</text>
<text x="243.1" y="206" font-size="11" fill="#b8325e" textLength="174" lengthAdjust="spacingAndGlyphs">occur and is called the limit level.</text>
<path d="M48.7,347 L54.3,357.9 L52,357.9 L52,376.5 L45.3,376.5 L45.3,357.9 L43.1,357.9 Z" fill="#fffce8" stroke="#f0dc88" stroke-width="1.2" stroke-linejoin="miter"/>
<path d="M215.6,386.6 L222.3,398 L218.9,398 L218.9,416.1 L212.2,416.1 L212.2,398 L209,398 Z" fill="#fffce8" stroke="#f0dc88" stroke-width="1.2" stroke-linejoin="miter"/>
<path d="M243.3,421 L249.6,421 L242,409.8 L260,421 L419.7,421 L419.7,456 L243.3,456 Z" fill="#fffdf3" fill-opacity="1" stroke="#f0d468" stroke-width="1.3"/>
<text x="248.6" y="437.3" font-size="12.5" fill="#e2ad34" textLength="90" lengthAdjust="spacingAndGlyphs">Resistance to</text>
<text x="248.6" y="449.7" font-size="12.5" fill="#e2ad34" textLength="166" lengthAdjust="spacingAndGlyphs">malfunctioning increases</text>
<line x1="544.5" y1="308" x2="544.5" y2="326.1" stroke="#7c7c7c" stroke-width="1.1"/>
<line x1="544.5" y1="330.6" x2="544.5" y2="376.3" stroke="#7c7c7c" stroke-width="1.1"/>
<line x1="537.7" y1="326.1" x2="551.3" y2="326.1" stroke="#6e6e6e" stroke-width="1.5"/>
<line x1="537.7" y1="330.6" x2="551.3" y2="330.6" stroke="#6e6e6e" stroke-width="1.5"/>
<path d="M544.5,339.8 A2.6,2.6 0 0 1 544.5,345" fill="#fff" stroke="#7c7c7c" stroke-width="1"/>
<line x1="531.9" y1="342.4" x2="531.9" y2="356.5" stroke="#7c7c7c" stroke-width="1.1"/>
<line x1="531.9" y1="361.3" x2="531.9" y2="376.3" stroke="#7c7c7c" stroke-width="1.1"/>
<line x1="524.9" y1="356.5" x2="538.9" y2="356.5" stroke="#6e6e6e" stroke-width="1.5"/>
<line x1="524.9" y1="361.3" x2="538.9" y2="361.3" stroke="#6e6e6e" stroke-width="1.5"/>
<path d="M522.5,380 L522.5,384.5 L554.5,384.5 L554.5,380 M538.2,384.5 L538.2,387.5" fill="none" stroke="#7a7a7a" stroke-width="1.2"/>
<text x="519.6" y="401.9" font-size="16.5" fill="#7a7a7a" textLength="35.8" lengthAdjust="spacingAndGlyphs">33pF</text>
<path d="M161.6,599.8 L167.9,609.2 L164.8,609.2 L164.8,628.4 L158.4,628.4 L158.4,609.2 L155.8,609.2 Z" fill="#ffffff" stroke="#4a3a4e" stroke-width="1.2" stroke-linejoin="miter"/>
<path d="M71.3,659.2 L183.7,659.2 L180.9,648.6 L203.8,659.2 L243,659.2 L243,698.7 L71.3,698.7 Z" fill="#ffffff" fill-opacity="1" stroke="#b4abbc" stroke-width="1.3"/>
<text x="80.7" y="676.6" font-size="13" fill="#5a3276" textLength="83" lengthAdjust="spacingAndGlyphs">Resistance to</text>
<text x="80.7" y="689.2" font-size="13" fill="#5a3276" textLength="154.5" lengthAdjust="spacingAndGlyphs">malfunctioning increases</text>
<text x="441.6" y="592.1" font-size="14" fill="#7a7a7a" textLength="96" lengthAdjust="spacingAndGlyphs">BLM15HB221</text>
<line x1="481.4" y1="603.3" x2="500" y2="603.3" stroke="#fff" stroke-width="2.5"/>
<path d="M481.4,603.3 L483.2,597.3 L498.2,597.3 L500,603.3" fill="none" stroke="#808080" stroke-width="1"/>
<ellipse cx="486.61" cy="603.6" rx="1.9" ry="6.2" fill="none" stroke="#808080" stroke-width="1"/>
<ellipse cx="490.7" cy="603.6" rx="1.9" ry="6.2" fill="none" stroke="#808080" stroke-width="1"/>
<ellipse cx="494.79" cy="603.6" rx="1.9" ry="6.2" fill="none" stroke="#808080" stroke-width="1"/>
<line x1="481.4" y1="637.3" x2="500" y2="637.3" stroke="#fff" stroke-width="2.5"/>
<path d="M481.4,637.3 L483.2,631.3 L498.2,631.3 L500,637.3" fill="none" stroke="#808080" stroke-width="1"/>
<ellipse cx="486.61" cy="637.6" rx="1.9" ry="6.2" fill="none" stroke="#808080" stroke-width="1"/>
<ellipse cx="490.7" cy="637.6" rx="1.9" ry="6.2" fill="none" stroke="#808080" stroke-width="1"/>
<ellipse cx="494.79" cy="637.6" rx="1.9" ry="6.2" fill="none" stroke="#808080" stroke-width="1"/>
<line x1="454.5" y1="603.3" x2="454.5" y2="614.5" stroke="#7c7c7c" stroke-width="1.1"/>
<line x1="454.5" y1="619.4" x2="454.5" y2="673" stroke="#7c7c7c" stroke-width="1.1"/>
<line x1="447.7" y1="614.5" x2="461.3" y2="614.5" stroke="#6e6e6e" stroke-width="1.5"/>
<line x1="447.7" y1="619.4" x2="461.3" y2="619.4" stroke="#6e6e6e" stroke-width="1.5"/>
<line x1="526.6" y1="603.3" x2="526.6" y2="614.5" stroke="#7c7c7c" stroke-width="1.1"/>
<line x1="526.6" y1="619.4" x2="526.6" y2="673" stroke="#7c7c7c" stroke-width="1.1"/>
<line x1="519.8" y1="614.5" x2="533.4" y2="614.5" stroke="#6e6e6e" stroke-width="1.5"/>
<line x1="519.8" y1="619.4" x2="533.4" y2="619.4" stroke="#6e6e6e" stroke-width="1.5"/>
<path d="M454.5,634.7 A2.6,2.6 0 0 1 454.5,639.9" fill="#fff" stroke="#7c7c7c" stroke-width="1"/>
<path d="M526.6,634.7 A2.6,2.6 0 0 1 526.6,639.9" fill="#fff" stroke="#7c7c7c" stroke-width="1"/>
<line x1="467.4" y1="637.3" x2="467.4" y2="652.5" stroke="#7c7c7c" stroke-width="1.1"/>
<line x1="467.4" y1="657.3" x2="467.4" y2="673" stroke="#7c7c7c" stroke-width="1.1"/>
<line x1="460.2" y1="652.5" x2="474.6" y2="652.5" stroke="#6e6e6e" stroke-width="1.5"/>
<line x1="460.2" y1="657.3" x2="474.6" y2="657.3" stroke="#6e6e6e" stroke-width="1.5"/>
<line x1="513.9" y1="637.3" x2="513.9" y2="652.5" stroke="#7c7c7c" stroke-width="1.1"/>
<line x1="513.9" y1="657.3" x2="513.9" y2="673" stroke="#7c7c7c" stroke-width="1.1"/>
<line x1="506.7" y1="652.5" x2="521.1" y2="652.5" stroke="#6e6e6e" stroke-width="1.5"/>
<line x1="506.7" y1="657.3" x2="521.1" y2="657.3" stroke="#6e6e6e" stroke-width="1.5"/>
<path d="M445.2,676.5 L445.2,680.7 L536.5,680.7 L536.5,676.5 M491.1,680.7 L491.1,684.9" fill="none" stroke="#7a7a7a" stroke-width="1.2"/>
<text x="473.3" y="700.4" font-size="16.5" fill="#7a7a7a" textLength="36.7" lengthAdjust="spacingAndGlyphs">33pF</text>
<path d="M219.2,845.8 L225,855.5 L221.7,855.5 L221.7,874.8 L216.1,874.8 L216.1,855.5 L213,855.5 Z" fill="#fff6ec" stroke="#9a7866" stroke-width="1.2" stroke-linejoin="miter"/>
<path d="M65.9,909.5 L176.6,909.5 L205.2,898 L193.8,909.5 L231.8,909.5 L231.8,947.2 L65.9,947.2 Z" fill="#fffaf5" fill-opacity="1" stroke="#e6a070" stroke-width="1.3"/>
<text x="70.7" y="925.8" font-size="13" fill="#dd7638" textLength="83" lengthAdjust="spacingAndGlyphs">Resistance to</text>
<text x="70.7" y="938.6" font-size="13" fill="#dd7638" textLength="153.7" lengthAdjust="spacingAndGlyphs">malfunctioning increases</text>
<text x="440.5" y="851.7" font-size="14" fill="#7a7a7a" textLength="96" lengthAdjust="spacingAndGlyphs">BLM15HB221</text>
<line x1="480.5" y1="864.5" x2="499" y2="864.5" stroke="#fff" stroke-width="2.5"/>
<path d="M480.5,864.5 L482.3,858.5 L497.2,858.5 L499,864.5" fill="none" stroke="#808080" stroke-width="1"/>
<ellipse cx="485.68" cy="864.8" rx="1.9" ry="6.2" fill="none" stroke="#808080" stroke-width="1"/>
<ellipse cx="489.75" cy="864.8" rx="1.9" ry="6.2" fill="none" stroke="#808080" stroke-width="1"/>
<ellipse cx="493.82" cy="864.8" rx="1.9" ry="6.2" fill="none" stroke="#808080" stroke-width="1"/>
<line x1="480.5" y1="899.4" x2="499" y2="899.4" stroke="#fff" stroke-width="2.5"/>
<path d="M480.5,899.4 L482.3,893.4 L497.2,893.4 L499,899.4" fill="none" stroke="#808080" stroke-width="1"/>
<ellipse cx="485.68" cy="899.7" rx="1.9" ry="6.2" fill="none" stroke="#808080" stroke-width="1"/>
<ellipse cx="489.75" cy="899.7" rx="1.9" ry="6.2" fill="none" stroke="#808080" stroke-width="1"/>
<ellipse cx="493.82" cy="899.7" rx="1.9" ry="6.2" fill="none" stroke="#808080" stroke-width="1"/>
<line x1="480.5" y1="931.2" x2="499" y2="931.2" stroke="#fff" stroke-width="2.5"/>
<path d="M480.5,931.2 L482.3,925.2 L497.2,925.2 L499,931.2" fill="none" stroke="#808080" stroke-width="1"/>
<ellipse cx="485.68" cy="931.5" rx="1.9" ry="6.2" fill="none" stroke="#808080" stroke-width="1"/>
<ellipse cx="489.75" cy="931.5" rx="1.9" ry="6.2" fill="none" stroke="#808080" stroke-width="1"/>
<ellipse cx="493.82" cy="931.5" rx="1.9" ry="6.2" fill="none" stroke="#808080" stroke-width="1"/>
<line x1="480.5" y1="969.1" x2="499" y2="969.1" stroke="#fff" stroke-width="2.5"/>
<path d="M480.5,969.1 L482.3,963.1 L497.2,963.1 L499,969.1" fill="none" stroke="#808080" stroke-width="1"/>
<ellipse cx="485.68" cy="969.4" rx="1.9" ry="6.2" fill="none" stroke="#808080" stroke-width="1"/>
<ellipse cx="489.75" cy="969.4" rx="1.9" ry="6.2" fill="none" stroke="#808080" stroke-width="1"/>
<ellipse cx="493.82" cy="969.4" rx="1.9" ry="6.2" fill="none" stroke="#808080" stroke-width="1"/>
<line x1="453.2" y1="864.5" x2="453.2" y2="877.4" stroke="#7c7c7c" stroke-width="1.1"/>
<line x1="453.2" y1="882.3" x2="453.2" y2="931.2" stroke="#7c7c7c" stroke-width="1.1"/>
<line x1="446.4" y1="877.4" x2="460" y2="877.4" stroke="#6e6e6e" stroke-width="1.5"/>
<line x1="446.4" y1="882.3" x2="460" y2="882.3" stroke="#6e6e6e" stroke-width="1.5"/>
<line x1="525.5" y1="864.5" x2="525.5" y2="877.4" stroke="#7c7c7c" stroke-width="1.1"/>
<line x1="525.5" y1="882.3" x2="525.5" y2="931.2" stroke="#7c7c7c" stroke-width="1.1"/>
<line x1="518.7" y1="877.4" x2="532.3" y2="877.4" stroke="#6e6e6e" stroke-width="1.5"/>
<line x1="518.7" y1="882.3" x2="532.3" y2="882.3" stroke="#6e6e6e" stroke-width="1.5"/>
<path d="M453.2,896.8 A2.6,2.6 0 0 1 453.2,902" fill="#fff" stroke="#7c7c7c" stroke-width="1"/>
<path d="M525.5,896.8 A2.6,2.6 0 0 1 525.5,902" fill="#fff" stroke="#7c7c7c" stroke-width="1"/>
<line x1="466.3" y1="899.4" x2="466.3" y2="912.2" stroke="#7c7c7c" stroke-width="1.1"/>
<line x1="466.3" y1="917.5" x2="466.3" y2="946.2" stroke="#7c7c7c" stroke-width="1.1"/>
<line x1="466.3" y1="951.2" x2="466.3" y2="969.1" stroke="#7c7c7c" stroke-width="1.1"/>
<line x1="459.1" y1="912.2" x2="473.5" y2="912.2" stroke="#6e6e6e" stroke-width="1.5"/>
<line x1="459.1" y1="917.5" x2="473.5" y2="917.5" stroke="#6e6e6e" stroke-width="1.5"/>
<line x1="459.1" y1="946.2" x2="473.5" y2="946.2" stroke="#6e6e6e" stroke-width="1.5"/>
<line x1="459.1" y1="951.2" x2="473.5" y2="951.2" stroke="#6e6e6e" stroke-width="1.5"/>
<line x1="512.6" y1="899.4" x2="512.6" y2="912.2" stroke="#7c7c7c" stroke-width="1.1"/>
<line x1="512.6" y1="917.5" x2="512.6" y2="946.2" stroke="#7c7c7c" stroke-width="1.1"/>
<line x1="512.6" y1="951.2" x2="512.6" y2="969.1" stroke="#7c7c7c" stroke-width="1.1"/>
<line x1="505.4" y1="912.2" x2="519.8" y2="912.2" stroke="#6e6e6e" stroke-width="1.5"/>
<line x1="505.4" y1="917.5" x2="519.8" y2="917.5" stroke="#6e6e6e" stroke-width="1.5"/>
<line x1="505.4" y1="946.2" x2="519.8" y2="946.2" stroke="#6e6e6e" stroke-width="1.5"/>
<line x1="505.4" y1="951.2" x2="519.8" y2="951.2" stroke="#6e6e6e" stroke-width="1.5"/>
<path d="M444.3,975.5 L444.3,980.7 L535,980.7 L535,975.5 M490.1,980.7 L490.1,984" fill="none" stroke="#7a7a7a" stroke-width="1.2"/>
<text x="474.3" y="1000" font-size="16.5" fill="#7a7a7a" textLength="33.7" lengthAdjust="spacingAndGlyphs">33pF</text>
<text x="479.5" y="991.8" font-size="19.5" fill="#b4d6a8" textLength="165" lengthAdjust="spacingAndGlyphs" fill-opacity="0.85" stroke="#b4d6a8" stroke-width="0.35" stroke-opacity="0.85">www.cntronics.com</text>
</svg></body></html>
